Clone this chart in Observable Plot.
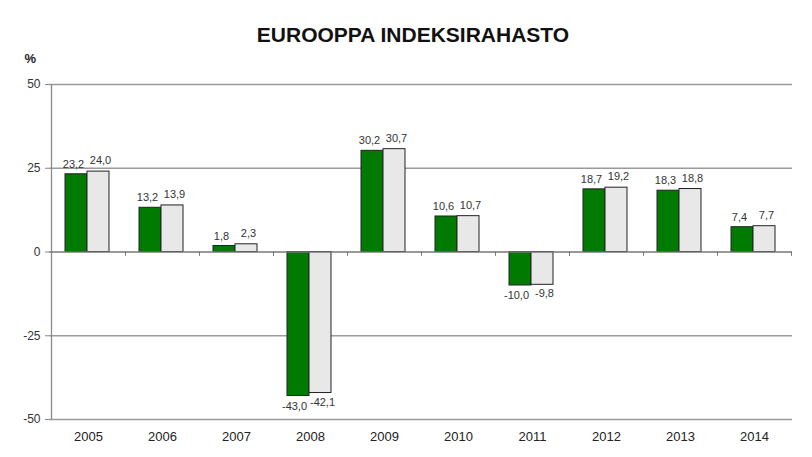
<!DOCTYPE html>
<html><head><meta charset="utf-8">
<script src="https://cdn.jsdelivr.net/npm/d3@7"></script>
<script src="https://cdn.jsdelivr.net/npm/@observablehq/plot@0.6"></script>
<style>
body{margin:0;background:#fff;font-family:Arial,"Liberation Sans",sans-serif;}
#title{height:45px;box-sizing:border-box;padding-top:25px;text-align:center;font-weight:bold;font-size:21px;color:#111;padding-left:14px;line-height:20px;}
</style></head><body>
<div id="title">EUROOPPA INDEKSIRAHASTO</div>
<div id="chart"></div>
<script>
const years = ["2005","2006","2007","2008","2009","2010","2011","2012","2013","2014"];
const fund = [23.2, 13.2, 1.8, -43.0, 30.2, 10.6, -10.0, 18.7, 18.3, 7.4];
const index = [24.0, 13.9, 2.3, -42.1, 30.7, 10.7, -9.8, 19.2, 18.8, 7.7];
const yTicks = [-50, -25, 0, 25, 50];

const fmt = v => v.toFixed(1).replace(".", ",");
const fundData = years.map((y, i) => ({year: y, value: fund[i]}));
const indexData = years.map((y, i) => ({year: y, value: index[i]}));
const pos = arr => arr.filter(d => d.value >= 0);
const neg = arr => arr.filter(d => d.value < 0);
const lbl = {fontSize: 11, fill: "#333", x: "year", y: "value", text: d => fmt(d.value)};

const chart = Plot.plot({
  width: 812,
  height: 412,
  marginLeft: 49,
  marginRight: 20,
  marginTop: 39,
  marginBottom: 38,
  style: {fontFamily: "Arial, 'Liberation Sans', sans-serif", background: "#fff"},
  x: {domain: years, padding: 0, label: null},
  y: {domain: [-50, 50], label: null},
  marks: [
    Plot.ruleY(yTicks.filter(d => d !== 0), {stroke: "#9a9a9a", strokeWidth: 1.3}),
    Plot.ruleX([0], {x: () => years[0], y1: -50, y2: 50, dx: -37, stroke: "#8a8a8a", strokeWidth: 1.3}),
    Plot.axisY({ticks: yTicks, tickSize: 4, tickPadding: 5, fontSize: 12, stroke: "#8a8a8a", color: "#333", tickFormat: d => d}),
    Plot.axisX({tickSize: 0, tickPadding: 12, fontSize: 13, color: "#222"}),
    Plot.text(["%"], {frameAnchor: "top-left", dx: -25, dy: -31, fontSize: 13, fontWeight: "bold", fill: "#222"}),
    Plot.barY(fundData, {x: "year", y: "value", insetLeft: 14, insetRight: 38, fill: "#007a00", stroke: "#222", strokeWidth: 1}),
    Plot.barY(indexData, {x: "year", y: "value", insetLeft: 36, insetRight: 16, fill: "#e8e8e8", stroke: "#222", strokeWidth: 1}),
    Plot.ruleY([0], {stroke: "#777", strokeWidth: 1.3}),
    Plot.ruleX(years, {x: d => d, y1: 0, y2: -1.3, dx: 37, stroke: "#777", strokeWidth: 1}),
    Plot.text(pos(fundData), {...lbl, dx: -15, dy: -10}),
    Plot.text(neg(fundData), {...lbl, dx: -16, dy: 10}),
    Plot.text(pos(indexData), {...lbl, dx: 12, dy: -11}),
    Plot.text(neg(indexData), {...lbl, dx: 12, dy: 9})
  ]
});
document.getElementById("chart").appendChild(chart);
</script>
</body></html>
